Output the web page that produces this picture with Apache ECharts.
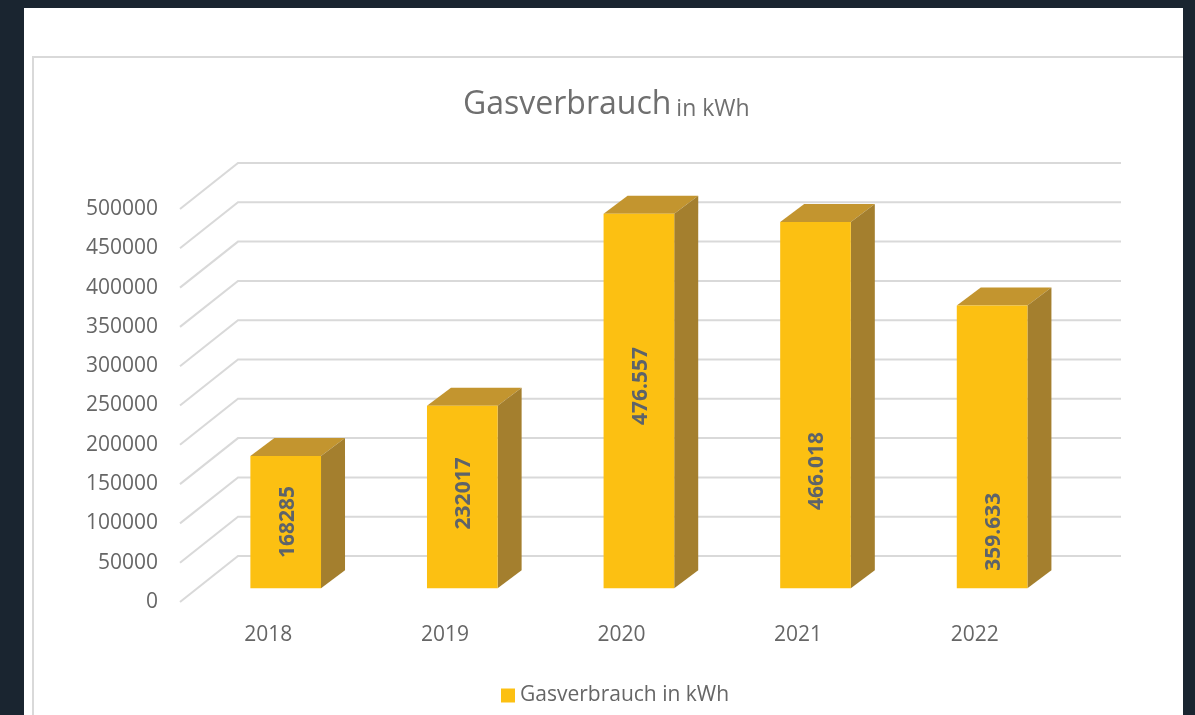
<!DOCTYPE html>
<html>
<head>
<meta charset="utf-8">
<script src="https://cdn.jsdelivr.net/npm/echarts@6/dist/echarts.min.js"></script>
<style>
  html, body { margin: 0; padding: 0; background: #1a2530; }
  #gas-chart { width: 1195px; height: 715px; }
</style>
</head>
<body>
<div id="gas-chart"></div>
<script>
// data
const years = ['2018', '2019', '2020', '2021', '2022'];
const gasKwh = [168285, 232017, 476557, 466018, 359633];
const gasLabels = ['168285', '232017', '476.557', '466.018', '359.633'];
const yTicks = [0, 50000, 100000, 150000, 200000, 250000, 300000, 350000, 400000, 450000, 500000];

// where the rotated value label sits on each bar (share of bar height)
const labelAt = [0.5, 0.52, 0.54, 0.32, 0.2];

// fake 3d: floor depth and bar depth in px
const floorDx = 58, floorDy = -46;
const barShift = 0.3;   // bar front plane inside the floor
const barDx = 24, barDy = -18;

const chart = echarts.init(document.getElementById('gas-chart'));
const font = '"Open Sans", "DejaVu Sans", sans-serif';

const option = {
  backgroundColor: '#1a2530',
  animation: false,
  graphic: [
    { type: 'rect', z: -20, shape: { x: 24, y: 8, width: 1159, height: 720 }, style: { fill: '#fff' } },
    { type: 'rect', z: -19, shape: { x: 33, y: 57, width: 1180, height: 700 }, style: { fill: 'none', stroke: '#d9d9d9', lineWidth: 2 } },
    { type: 'rect', z: -18, shape: { x: 1183, y: 0, width: 20, height: 715 }, style: { fill: '#1a2530' } }
  ],
  title: {
    text: '{a|Gasverbrauch} {b|in kWh}',
    left: 458,
    top: 84,
    textStyle: {
      fontWeight: 'normal',
      rich: {
        a: { fontFamily: font, fontSize: 32, lineHeight: 32, verticalAlign: 'bottom', fontWeight: 'normal', color: '#6f6f6f' },
        b: { fontFamily: font, fontSize: 23, lineHeight: 23, verticalAlign: 'bottom', fontWeight: 'normal', color: '#6f6f6f' }
      }
    }
  },
  legend: {
    left: 496,
    top: 680,
    itemWidth: 14,
    itemHeight: 14,
    itemGap: 6,
    data: [{ name: 'Gasverbrauch in kWh', icon: 'rect' }],
    textStyle: { fontFamily: font, fontSize: 21, color: '#666' }
  },
  grid: { left: 180, right: 132, top: 209, bottom: 113 },
  xAxis: {
    type: 'category',
    data: years,
    axisLine: { show: false },
    axisTick: { show: false },
    axisLabel: { fontFamily: font, fontSize: 21, color: '#666', margin: 23 }
  },
  yAxis: {
    type: 'value',
    min: 0,
    max: 500000,
    interval: 50000,
    splitLine: { show: false },
    axisLine: { show: false },
    axisTick: { show: false },
    axisLabel: { fontFamily: font, fontSize: 21, color: '#666', margin: 22, formatter: v => String(v) }
  },
  series: [
    {
      // side wall diagonals and back wall grid lines
      type: 'custom',
      name: 'walls',
      silent: true,
      z: 1,
      data: yTicks.map(t => [0, t]),
      renderItem: (params, api) => {
        const cs = params.coordSys;
        const y = api.coord([0, api.value(1)])[1];
        return {
          type: 'polyline',
          shape: { points: [[cs.x, y], [cs.x + floorDx, y + floorDy], [cs.x + cs.width + floorDx, y + floorDy]] },
          style: { stroke: '#d9d9d9', lineWidth: 2, fill: 'none' }
        };
      }
    },
    {
      type: 'custom',
      name: 'Gasverbrauch in kWh',
      z: 3,
      itemStyle: { color: '#fcc012' },
      data: years.map((y, i) => [i, gasKwh[i]]),
      renderItem: (params, api) => {
        const i = api.value(0);
        const top = api.coord([i, api.value(1)]);
        const bot = api.coord([i, 0]);
        const bw = api.size([1, 0])[0] * 0.4;
        const x0 = top[0] - bw / 2 + floorDx * barShift;
        const x1 = x0 + bw;
        const yt = top[1] + floorDy * barShift;
        const yb = bot[1] + floorDy * barShift;
        const ly = yb - (yb - yt) * labelAt[i];
        return {
          type: 'group',
          children: [
            {
              type: 'polygon',
              shape: { points: [[x0, yt], [x1, yt], [x1 + barDx, yt + barDy], [x0 + barDx, yt + barDy]] },
              style: { fill: '#c3952f' }
            },
            {
              type: 'polygon',
              shape: { points: [[x1, yt], [x1 + barDx, yt + barDy], [x1 + barDx, yb + barDy], [x1, yb]] },
              style: { fill: '#a47f2e' }
            },
            {
              type: 'rect',
              shape: { x: x0, y: yt, width: bw, height: yb - yt },
              style: { fill: '#fcc012' }
            },
            {
              type: 'text',
              x: (x0 + x1) / 2 + 2,
              y: ly,
              rotation: Math.PI / 2,
              style: {
                text: gasLabels[i],
                fontFamily: font,
                fontSize: 21,
                fontWeight: 'bold',
                fill: '#5d636a',
                align: 'center',
                verticalAlign: 'middle'
              }
            }
          ]
        };
      }
    }
  ]
};

chart.setOption(option);
window.addEventListener('resize', () => {
  chart.resize();
});
</script>
</body>
</html>
